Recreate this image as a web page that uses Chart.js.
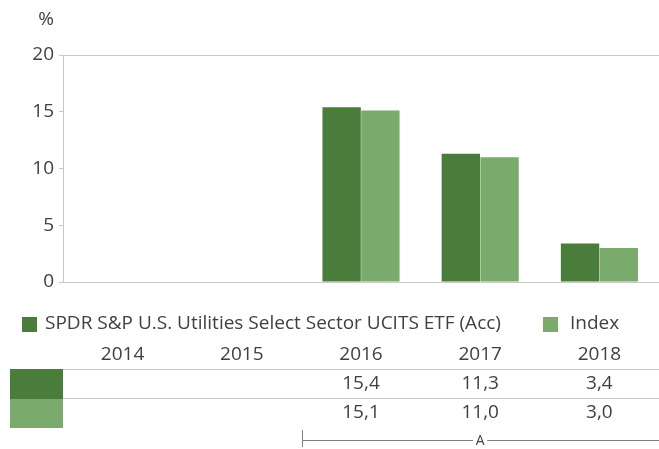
<!DOCTYPE html>
<html>
<head>
<meta charset="utf-8">
<script src="https://cdn.jsdelivr.net/npm/chart.js@4.4.0/dist/chart.umd.min.js"></script>
<style>
  html, body { margin:0; padding:0; background:#fff; }
  #wrap { width:659px; height:449px; position:relative; }
</style>
</head>
<body>
<div id="wrap"><canvas id="c"></canvas></div>
<script>
// ---- DATOS ----
const years = ['2014', '2015', '2016', '2017', '2018'];
const fundValues = [null, null, 15.4, 11.3, 3.4];
const indexValues = [null, null, 15.1, 11.0, 3.0];
const seriesNames = ['SPDR S&P U.S. Utilities Select Sector UCITS ETF (Acc)', 'Index'];
const yTicks = [0, 5, 10, 15, 20];

const DARK = '#4a7c3b';
const LIGHT = '#7aaa6c';
const FONT = '"Open Sans", sans-serif';
const TXT = '#404040';
const LINE = '#c8c8c8';

function fmt(v){ return v == null ? '' : v.toFixed(1).replace('.', ','); }

// legend + tabla + corchete dibujados debajo del grafico
const tablePlugin = {
  id: 'tablePlugin',
  afterDraw(chart){
    const ctx = chart.ctx;
    const xs = chart.scales.x;
    const area = chart.chartArea;
    ctx.save();

    // linea superior (20)
    ctx.strokeStyle = LINE; ctx.lineWidth = 1;
    ctx.beginPath(); ctx.moveTo(area.left, area.top + 0.5); ctx.lineTo(area.right, area.top + 0.5); ctx.stroke();

    // "%"
    ctx.fillStyle = TXT;
    ctx.font = '19px ' + FONT;
    ctx.textAlign = 'center'; ctx.textBaseline = 'middle';
    ctx.fillText('%', 46, 20);

    // leyenda
    ctx.textAlign = 'left';
    ctx.fillStyle = DARK; ctx.fillRect(22, 317, 15, 15);
    ctx.fillStyle = TXT; ctx.fillText(seriesNames[0], 45, 324);
    ctx.fillStyle = LIGHT; ctx.fillRect(543, 317, 15, 15);
    ctx.fillStyle = TXT; ctx.fillText(seriesNames[1], 570, 324);

    // cabecera de años y valores
    ctx.textAlign = 'center';
    years.forEach((y, i) => {
      const x = xs.getPixelForValue(i);
      ctx.fillText(y, x, 355);
      ctx.fillText(fmt(fundValues[i]), x, 384);
      ctx.fillText(fmt(indexValues[i]), x, 413);
    });

    // cuadrados de color
    ctx.fillStyle = DARK; ctx.fillRect(10, 369, 53, 30);
    ctx.fillStyle = LIGHT; ctx.fillRect(10, 399, 53, 29);

    // lineas de tabla
    ctx.strokeStyle = LINE;
    ctx.beginPath();
    ctx.moveTo(63, 369.5); ctx.lineTo(659, 369.5);
    ctx.moveTo(63, 398.5); ctx.lineTo(659, 398.5);
    ctx.stroke();

    // corchete "A"
    const x0 = 302.5;
    const xa = xs.getPixelForValue(3);
    ctx.strokeStyle = '#808080';
    ctx.beginPath();
    ctx.moveTo(x0, 430); ctx.lineTo(x0, 447);
    ctx.moveTo(x0, 440.5); ctx.lineTo(xa - 7, 440.5);
    ctx.moveTo(xa + 7, 440.5); ctx.lineTo(659, 440.5);
    ctx.stroke();
    ctx.font = '14px ' + FONT;
    ctx.fillStyle = TXT;
    ctx.fillText('A', xa, 441);

    ctx.restore();
  }
};

new Chart(document.getElementById('c'), {
  type: 'bar',
  data: {
    labels: years,
    datasets: [
      { label: seriesNames[0], data: fundValues, backgroundColor: DARK, barPercentage: 0.99, categoryPercentage: 0.65 },
      { label: seriesNames[1], data: indexValues, backgroundColor: LIGHT, barPercentage: 0.99, categoryPercentage: 0.65 }
    ]
  },
  options: {
    responsive: true,
    maintainAspectRatio: false,
    animation: false,
    layout: { padding: { top: 55, bottom: 159, right: 0, left: 0 } },
    plugins: { legend: { display: false }, tooltip: { enabled: false } },
    scales: {
      x: {
        grid: { display: false },
        border: { display: true, color: LINE },
        ticks: { display: false }
      },
      y: {
        min: 0, max: 20,
        afterBuildTicks: s => { s.ticks = yTicks.map(v => ({ value: v })); },
        afterFit: s => { s.width = 63; },
        grid: { drawOnChartArea: false, drawTicks: true, tickLength: 4, color: LINE },
        border: { display: true, color: LINE },
        ticks: { color: TXT, font: { family: FONT, size: 19 }, padding: 5 }
      }
    }
  },
  plugins: [tablePlugin]
});
</script>
</body>
</html>
